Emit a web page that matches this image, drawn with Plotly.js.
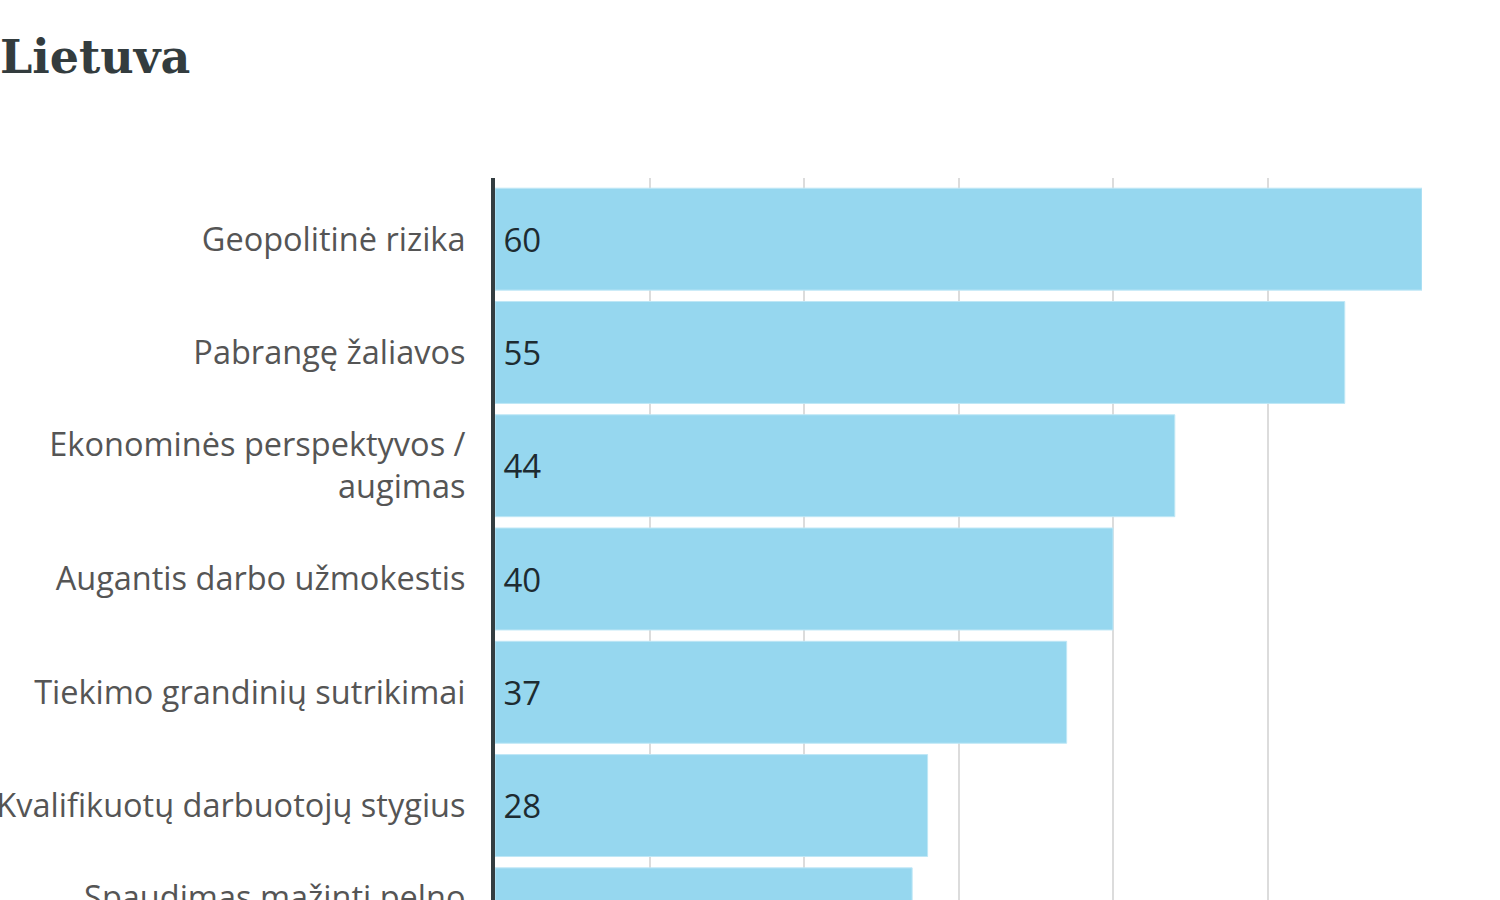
<!DOCTYPE html>
<html>
<head>
<meta charset="utf-8">
<script src="https://cdn.plot.ly/plotly-3.0.1.min.js"></script>
<style>
html, body { margin: 0; padding: 0; overflow: hidden; background: #ffffff; }
#chart { width: 1500px; height: 1100px; }
</style>
</head>
<body>
<div id="chart"></div>
<script>
const chartTitle = "Lietuva";
const categories = [
  "Geopolitinė rizika",
  "Pabrangę žaliavos",
  "Ekonominės perspektyvos /<br>augimas",
  "Augantis darbo užmokestis",
  "Tiekimo grandinių sutrikimai",
  "Kvalifikuotų darbuotojų stygius",
  "Spaudimas mažinti pelno<br>maržas"
];
const values = [60, 55, 44, 40, 37, 28, 27];
const xTicks = [0, 10, 20, 30, 40, 50, 60];

const trace = {
  type: "bar",
  orientation: "h",
  y: categories,
  x: values,
  marker: { color: "#96d7ef", line: { width: 1, color: "#bfe7f6" } },
  text: values.map(v => "\u2009" + v),
  textposition: "inside",
  insidetextanchor: "start",
  textfont: { family: "Open Sans", size: 33, color: "#1d2b31" },
  constraintext: "none",
  hoverinfo: "none"
};

const layout = {
  width: 1500,
  height: 1100,
  margin: { l: 495, r: 78, t: 178, b: 120 },
  paper_bgcolor: "#ffffff",
  plot_bgcolor: "#ffffff",
  showlegend: false,
  bargap: 0.1,
  title: {
    text: chartTitle,
    x: 0, xref: "container", xanchor: "left",
    y: 1 - 57 / 1100, yref: "container", yanchor: "middle",
    font: { family: "DejaVu Serif", size: 46, weight: "bold", color: "#333c3e" }
  },
  xaxis: {
    range: [0, 60],
    tickvals: xTicks,
    showgrid: true,
    gridcolor: "#dcdcdc",
    gridwidth: 2,
    zeroline: false,
    showline: false,
    showticklabels: false,
    fixedrange: true
  },
  yaxis: {
    type: "category",
    range: [6.54, -0.54],
    showgrid: false,
    zeroline: false,
    showline: true,
    linecolor: "#333d40",
    linewidth: 4,
    ticks: "",
    ticklabelstandoff: 19,
    tickfont: { family: "Open Sans", size: 32.5, color: "#555555" },
    automargin: false,
    fixedrange: true
  }
};

Plotly.newPlot("chart", [trace], layout, { displayModeBar: false, staticPlot: true });
</script>
</body>
</html>
